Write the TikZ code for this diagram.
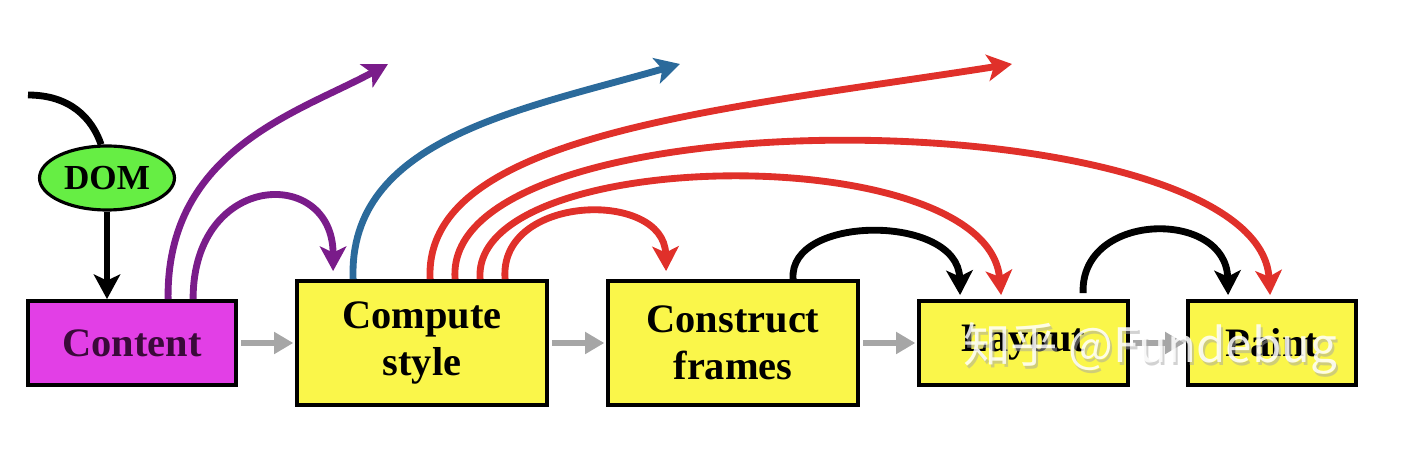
\documentclass[tikz,border=0pt]{standalone}
\usepackage{fontspec}
\newfontfamily\cjkwm{Noto Sans CJK SC}
\newfontfamily\boxfont{Liberation Serif}
\usetikzlibrary{arrows.meta,calc,shapes.geometric}
\definecolor{boxyellow}{HTML}{FAF64A}
\definecolor{boxmag}{HTML}{E23FE6}
\definecolor{domgreen}{HTML}{66EE44}
\definecolor{arrpurple}{HTML}{7A1C8A}
\definecolor{arrblue}{HTML}{2B6A9B}
\definecolor{arrred}{HTML}{E0302A}
\definecolor{arrgray}{HTML}{A6A6A6}
\definecolor{contenttext}{HTML}{3A0A3A}
\begin{document}
\begin{tikzpicture}[x=0.02cm,y=-0.02cm,
  stagebox/.style={draw=black, line width=2.2pt, inner sep=0pt, align=center,
    font=\boxfont\bfseries\fontsize{23}{27}\selectfont},
  flow/.style={line width=3.9pt, -{Stealth[length=14pt,width=15pt,inset=3.5pt]}},
  plain/.style={line width=3.9pt},
  pipe/.style={draw=arrgray, line width=3pt, shorten <=2pt, shorten >=1pt,
    -{Triangle[length=11pt,width=12pt]}},
]
\useasboundingbox (0,0) rectangle (1402,472);

% stages
\node[stagebox, fill=boxmag, text=contenttext, minimum width=4.16cm, minimum height=1.68cm] (content) at (132,343) {Content};
\node[stagebox, fill=boxyellow, minimum width=5cm, minimum height=2.48cm] (compute) at (422,343) {Compute\\style};
\node[stagebox, fill=boxyellow, minimum width=5cm, minimum height=2.48cm] (construct) at (733,343) {Construct\\frames};
\node[stagebox, fill=boxyellow, minimum width=4.18cm, minimum height=1.68cm] (layout) at (1023.5,343) {Layout};
\node[stagebox, fill=boxyellow, minimum width=3.36cm, minimum height=1.68cm] (paint) at (1272,343) {Paint};
\node[ellipse, draw=black, line width=1.8pt, fill=domgreen, minimum width=2.7cm, minimum height=1.28cm, inner sep=0pt,
  font=\boxfont\bfseries\fontsize{20}{22}\selectfont] (dom) at (107,178) {DOM};

% pipeline arrows
\draw[pipe] (content.east) -- (compute.west);
\draw[pipe] (compute.east) -- (construct.west);
\draw[pipe] (construct.east) -- (layout.west);
\draw[pipe] (layout.east) -- (paint.west);

% DOM input
\coordinate (domin) at (28,95);
\draw[plain] (domin) .. controls (70,95) and (92,118) .. (dom.100);
\draw[flow, draw=black] (dom.south) -- (dom.south |- content.north);

% free ends
\coordinate (purpleend) at (388,64);
\coordinate (blueend) at (680,64);
\coordinate (redend) at (1012,64);

% purple
\draw[flow, draw=arrpurple] ($(content.north west)+(142,0)$) .. controls ($(content.north west)+(140,-150)$) and (300,112) .. (purpleend);
\draw[flow, draw=arrpurple] ($(content.north west)+(167,0)$) .. controls ($(content.north west)+(167,-128)$) and ($(compute.north west)+(38,-113)$) .. ($(compute.north west)+(38,-8)$);

% blue
\draw[flow, draw=arrblue] ($(compute.north west)+(58,0)$) .. controls ($(compute.north west)+(53,-140)$) and (520,110) .. (blueend);

% red
\draw[flow, draw=arrred] ($(compute.north west)+(135,0)$) .. controls ($(compute.north west)+(128,-145)$) and (720,110) .. (redend);
\draw[flow, draw=arrred] ($(compute.north west)+(160,0)$) .. controls ($(compute.north west)+(145,-190)$) and ($(paint.north west)+(72,-200)$) .. ($(paint.north west)+(84,-4)$);
\draw[flow, draw=arrred] ($(compute.north west)+(185,0)$) .. controls ($(compute.north west)+(175,-135)$) and ($(layout.north west)+(70,-160)$) .. ($(layout.north west)+(84,-4)$);
\draw[flow, draw=arrred] ($(compute.north west)+(210,0)$) .. controls ($(compute.north west)+(203,-85)$) and ($(construct.north west)+(58,-90)$) .. ($(construct.north west)+(60,-8)$);

% black
\draw[flow, draw=black] ($(construct.north west)+(187,0)$) .. controls ($(construct.north west)+(182,-65)$) and ($(layout.north west)+(41,-85)$) .. ($(layout.north west)+(43,-4)$);
\draw[flow, draw=black] ($(layout.north west)+(166,-6)$) .. controls ($(layout.north west)+(163,-88)$) and ($(paint.north west)+(40,-90)$) .. ($(paint.north west)+(42,-4)$);

% watermark
\node[font=\cjkwm\fontsize{27}{30}\selectfont, text=gray!70, opacity=0.5] (wmshadow) at (1152,351) {知乎 @Fundebug};
\node[font=\cjkwm\fontsize{27}{30}\selectfont, text=white, opacity=0.85] (wm) at (1150,348) {知乎 @Fundebug};
\end{tikzpicture}
\end{document}
